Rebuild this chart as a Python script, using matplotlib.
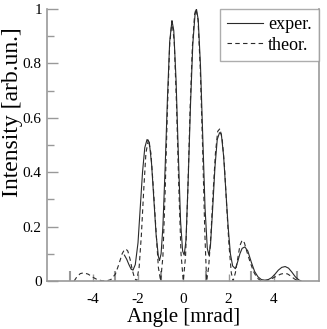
import numpy as np
import matplotlib
matplotlib.use("Agg")
import matplotlib.pyplot as plt

# theory curve (dashed)
theor_x = [-4.82, -4.7, -4.55, -4.4, -4.2, -4.0, -3.8, -3.6, -3.4, -3.2, -3.0, -2.85, -2.7, -2.6,
           -2.53, -2.45, -2.35, -2.25, -2.15, -2.06, -1.95, -1.85, -1.75, -1.65, -1.54, -1.43,
           -1.32, -1.2, -1.1, -1.0, -0.9, -0.8, -0.7, -0.6, -0.5, -0.4, -0.3, -0.2, -0.1, 0.0,
           0.1, 0.2, 0.3, 0.4, 0.5, 0.56, 0.65, 0.75, 0.85, 0.95, 1.03, 1.12, 1.22, 1.32, 1.42,
           1.52, 1.62, 1.72, 1.82, 1.92, 2.02, 2.12, 2.2, 2.3, 2.4, 2.5, 2.6, 2.7, 2.8, 2.95,
           3.1, 3.25, 3.4, 3.53, 3.7, 3.9, 4.1, 4.3, 4.45, 4.6, 4.75, 4.9, 5.07]
theor_y = [0.0, 0.015, 0.027, 0.03, 0.025, 0.014, 0.005, 0.001, 0.0, 0.005, 0.025, 0.06, 0.1, 0.115,
           0.117, 0.11, 0.08, 0.04, 0.01, 0.0, 0.05, 0.17, 0.33, 0.47, 0.52, 0.47,
           0.34, 0.18, 0.05, 0.0, 0.09, 0.33, 0.63, 0.87, 0.955, 0.88, 0.65, 0.35, 0.10, 0.0,
           0.09, 0.33, 0.63, 0.86, 0.98, 1.0, 0.96, 0.78, 0.5, 0.18, 0.0, 0.05, 0.17, 0.33, 0.47,
           0.55, 0.56, 0.52, 0.42, 0.27, 0.13, 0.03, 0.0, 0.03, 0.08, 0.13, 0.15, 0.14, 0.11, 0.07,
           0.035, 0.012, 0.002, 0.0, 0.002, 0.008, 0.017, 0.025, 0.028, 0.026, 0.018, 0.008, 0.0]

# experiment curve (solid)
exper_x = [-2.6, -2.5, -2.4, -2.3, -2.22, -2.12, -2.0, -1.9, -1.8, -1.7, -1.6, -1.5, -1.4, -1.3,
           -1.2, -1.1, -1.05, -0.98, -0.9, -0.8, -0.7, -0.6, -0.5, -0.42, -0.32, -0.22, -0.12,
           -0.03, 0.04, 0.12, 0.22, 0.32, 0.42, 0.52, 0.58, 0.66, 0.76, 0.86, 0.96, 1.06, 1.13,
           1.2, 1.3, 1.4, 1.5, 1.6, 1.68, 1.78, 1.88, 1.98, 2.08, 2.18, 2.3, 2.4, 2.5, 2.6, 2.72,
           2.85, 3.0, 3.15, 3.3, 3.45, 3.6, 3.75, 3.9, 4.05, 4.2, 4.35, 4.5, 4.65, 4.8, 4.95,
           5.1, 5.2]
exper_y = [0.095, 0.08, 0.06, 0.043, 0.04, 0.06, 0.14, 0.27, 0.4, 0.49, 0.52, 0.51, 0.43, 0.3,
           0.17, 0.09, 0.075, 0.1, 0.2, 0.42, 0.67, 0.88, 0.957, 0.92, 0.74, 0.47, 0.22,
           0.11, 0.095, 0.15, 0.38, 0.65, 0.87, 0.98, 1.0, 0.96, 0.79, 0.53, 0.27, 0.12, 0.095,
           0.13, 0.27, 0.42, 0.52, 0.545, 0.54, 0.46, 0.33, 0.2, 0.1, 0.055, 0.045, 0.07, 0.1, 0.12, 0.125,
           0.11, 0.07, 0.035, 0.015, 0.005, 0.003, 0.005, 0.012, 0.025, 0.04, 0.05, 0.053, 0.047, 0.032, 0.015,
           0.004, 0.0]

xticks = [-4, -2, 0, 2, 4]
xticks_minor = [-5, -3, -1, 1, 3, 5]
yticks = [0, 0.2, 0.4, 0.6, 0.8, 1]
yticks_minor = [0.1, 0.3, 0.5, 0.7, 0.9]
ytick_labels = ['0', '0.2', '0.4', '0.6', '0.8', '1']

plt.rcParams['font.family'] = ['Liberation Serif', 'DejaVu Serif']

fig = plt.figure(figsize=(3.27, 3.29), dpi=100)
ax = fig.add_axes([0.145, 0.146, 0.831, 0.827])

ax.plot(exper_x, exper_y, color='#2a2a2a', lw=0.8, label='exper.')
ax.plot(theor_x, theor_y, color='#2a2a2a', lw=0.8, ls=(0, (4, 3)), label='theor.')

ax.set_xlim(-6, 6)
ax.set_ylim(0, 1)
ax.set_xticks(xticks)
ax.set_xticklabels([str(v) for v in xticks])
ax.set_xticks(xticks_minor, minor=True)
ax.set_yticks(yticks)
ax.set_yticklabels(ytick_labels)
ax.set_yticks(yticks_minor, minor=True)

ax.tick_params(which='both', direction='in', color='#999999', labelsize=11)
ax.tick_params(axis='x', which='major', length=5, width=1, pad=9)
ax.tick_params(axis='x', which='minor', length=7, width=1.5)
ax.tick_params(axis='y', which='major', length=8, width=1, pad=4)
ax.tick_params(axis='y', which='minor', length=5, width=1)
ax.tick_params(axis='x', which='both', top=False)
ax.tick_params(axis='y', which='both', right=False)

ax.spines['top'].set_visible(False)
for s in ['left', 'bottom', 'right']:
    ax.spines[s].set_color('#999999')
    ax.spines[s].set_linewidth(1.2)

ax.set_xlabel('Angle [mrad]', fontsize=15)
ax.xaxis.set_label_coords(0.5, -0.136, transform=ax.transAxes)
ax.xaxis.label.set_va('center')
ax.set_ylabel('Intensity [arb.un.]', fontsize=17)
ax.yaxis.set_label_coords(-0.13, 0.62, transform=ax.transAxes)
ax.yaxis.label.set_va('center')

leg = ax.legend(loc='upper right', fontsize=13, frameon=True, fancybox=False,
                borderaxespad=0.0, handlelength=2.0, handletextpad=0.3,
                borderpad=0.4, labelspacing=0.2)
leg.get_frame().set_edgecolor('#999999')
leg.get_frame().set_linewidth(1.0)

fig.savefig('out.png', dpi=100)
